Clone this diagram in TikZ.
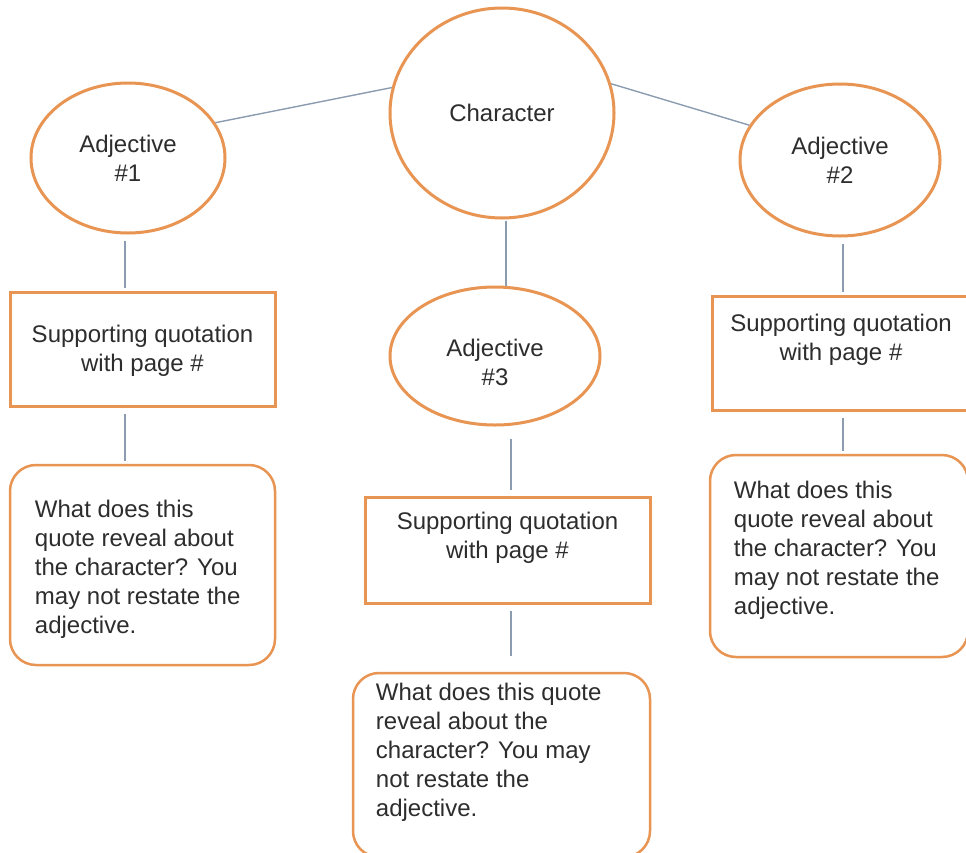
\documentclass[tikz,border=0pt]{standalone}
\usepackage{fontspec}
\setmainfont{Liberation Sans}
\usetikzlibrary{shapes.geometric}
\definecolor{orng}{RGB}{232,148,82}
\definecolor{conn}{RGB}{140,156,176}
\definecolor{txt}{RGB}{45,45,45}
\tikzset{
  oval/.style={ellipse, draw=orng, line width=3pt, fill=white, inner sep=0pt, align=center, text=txt, font=\fontsize{24}{29}\selectfont},
  qbox/.style={rectangle, draw=orng, line width=3pt, fill=white, inner sep=0pt},
  rbox/.style={rectangle, rounded corners=26pt, draw=orng, line width=2.5pt, fill=white, inner sep=0pt},
  inlabel/.style={align=left, inner sep=0pt, text=txt, font=\fontsize{24}{29}\selectfont},
  clabel/.style={align=center, inner sep=0pt, text=txt, font=\fontsize{24}{29}\selectfont},
  link/.style={draw=conn, line width=1.4pt},
  vlink/.style={link, shorten <=6pt, shorten >=3pt}
}
\begin{document}
\begin{tikzpicture}[x=1pt,y=-1pt]
\useasboundingbox (0,0) rectangle (966,852);
\clip (0,0) rectangle (966,852);
\fill[white] (0,0) rectangle (966,852);
% nodes
\node[oval, minimum width=224pt, minimum height=210pt] (char) at (502,113) {Character};
\node[oval, minimum width=194pt, minimum height=150pt] (adj1) at (128,158) {Adjective\\\#1};
\node[oval, minimum width=200pt, minimum height=152pt] (adj2) at (840,160) {Adjective\\\#2};
\node[oval, minimum width=210pt, minimum height=138pt] (adj3) at (495,356) {};
\node[clabel] (a3) at ([yshift=-6pt]adj3.center) {Adjective\\\#3};
\node[qbox, minimum width=265pt, minimum height=114pt] (box1) at (142.5,349) {};
\node[clabel] (t1) at ([yshift=-2pt]box1.center) {Supporting quotation\\with page \#};
\node[qbox, minimum width=258pt, minimum height=114pt] (box2) at (841,353) {};
\node[clabel] (t2) at ([yshift=13pt]box2.center) {Supporting quotation\\with page \#};
\node[qbox, minimum width=285pt, minimum height=106pt] (box3) at (507.5,550) {};
\node[clabel] (t3) at ([yshift=12pt]box3.center) {Supporting quotation\\with page \#};
\node[rbox, minimum width=265pt, minimum height=200pt] (r1) at (142.5,565) {};
\node[inlabel, anchor=north west] (rt1) at ([xshift=26pt,yshift=-36pt]r1.north west)
  {What does this\\quote reveal about\\the character? You\\may not restate the\\adjective.};
\node[rbox, minimum width=258pt, minimum height=202pt] (r2) at (839,556) {};
\node[inlabel, anchor=north west] (rt2) at ([xshift=25pt,yshift=-27pt]r2.north west)
  {What does this\\quote reveal about\\the character? You\\may not restate the\\adjective.};
\node[rbox, minimum width=297pt, minimum height=184pt] (r3) at (501.5,765) {};
\node[inlabel, anchor=north west] (rt3) at ([xshift=24pt,yshift=-11pt]r3.north west)
  {What does this quote\\reveal about the\\character? You may\\not restate the\\adjective.};
% connectors
\draw[link] (adj1.22) -- (char.167);
\draw[link] (char.15) -- (adj2.159);
\draw[link, shorten <=1pt] (char.south -| 506,0) -- (adj3.north -| 506,0);
\draw[vlink] (adj1.south -| 125,0) -- (box1.north -| 125,0);
\draw[vlink] (box1.south -| 125,0) -- (r1.north -| 125,0);
\draw[vlink] (adj2.south -| 843,0) -- (box2.north -| 843,0);
\draw[vlink] (box2.south -| 843,0) -- (r2.north -| 843,0);
\draw[vlink, shorten <=12pt, shorten >=6pt] (adj3.south -| 511,0) -- (box3.north -| 511,0);
\draw[vlink, shorten >=16pt] (box3.south -| 511,0) -- (r3.north -| 511,0);
\end{tikzpicture}
\end{document}
